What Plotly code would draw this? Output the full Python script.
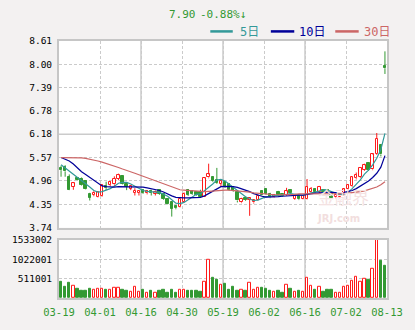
import plotly.graph_objects as go

# ---- data -------------------------------------------------------------
date_labels = ["03-19", "04-01", "04-16", "04-30", "05-19", "06-02", "06-16", "07-02", "08-13"]

opens = [5.30, 5.33, 5.06, 4.80, 5.04, 5.00, 4.96, 4.63, 4.59, 4.54,
         4.58, 4.84, 4.86, 4.87, 5.01, 5.08, 4.87, 4.76, 4.65, 4.65,
         4.72, 4.64, 4.71, 4.62, 4.72, 4.63, 4.50, 4.40, 4.30, 4.27,
         4.40, 4.72, 4.70, 4.67, 4.66, 4.55, 5.05, 5.05, 4.98, 4.88,
         4.92, 4.88, 4.80, 4.66, 4.40, 4.52, 4.47, 4.40, 4.47, 4.69,
         4.74, 4.63, 4.55, 4.67, 4.62, 4.59, 4.72, 4.49, 4.58, 4.50,
         4.48, 4.68, 4.74, 4.67, 4.72, 4.72, 4.64, 4.53, 4.53, 4.60,
         4.76, 4.82, 5.03, 5.06, 5.24, 5.42, 5.26, 5.66, 5.90, 7.97]
highs = [5.36, 5.37, 5.13, 4.91, 5.06, 5.05, 4.98, 4.65, 4.69, 4.68,
         4.86, 4.94, 4.96, 5.08, 5.15, 5.10, 4.88, 4.84, 4.77, 4.72,
         4.74, 4.72, 4.73, 4.71, 4.74, 4.65, 4.51, 4.42, 4.33, 4.50,
         4.66, 4.75, 4.72, 4.69, 4.73, 5.05, 5.41, 5.08, 5.30, 4.98,
         4.94, 4.90, 4.82, 4.68, 4.52, 4.55, 4.53, 4.48, 4.60, 4.72,
         4.76, 4.65, 4.62, 4.70, 4.64, 4.78, 4.74, 4.60, 4.60, 4.59,
         5.01, 4.80, 4.77, 4.83, 4.74, 4.75, 4.66, 4.62, 4.61, 4.76,
         4.88, 5.06, 5.18, 5.32, 5.41, 5.45, 5.67, 6.21, 5.92, 8.34]
lows = [5.07, 5.07, 4.72, 4.73, 4.97, 4.84, 4.74, 4.45, 4.56, 4.53,
        4.55, 4.72, 4.83, 4.83, 4.98, 4.86, 4.72, 4.72, 4.58, 4.58,
        4.62, 4.61, 4.58, 4.58, 4.60, 4.47, 4.35, 4.03, 4.22, 4.26,
        4.39, 4.57, 4.60, 4.57, 4.53, 4.54, 5.03, 4.93, 4.88, 4.80,
        4.78, 4.70, 4.68, 4.40, 4.38, 4.44, 4.05, 4.37, 4.45, 4.58,
        4.60, 4.51, 4.53, 4.58, 4.55, 4.57, 4.62, 4.47, 4.46, 4.48,
        4.47, 4.66, 4.64, 4.65, 4.65, 4.64, 4.49, 4.51, 4.51, 4.58,
        4.74, 4.80, 5.00, 5.04, 5.22, 5.22, 5.24, 5.64, 5.60, 7.75]
closes = [5.24, 5.21, 4.73, 4.90, 4.98, 4.86, 4.76, 4.52, 4.65, 4.67,
          4.85, 4.77, 4.93, 5.01, 5.11, 4.87, 4.81, 4.82, 4.71, 4.71,
          4.64, 4.70, 4.65, 4.67, 4.62, 4.49, 4.37, 4.24, 4.25, 4.49,
          4.63, 4.60, 4.62, 4.59, 4.55, 5.03, 5.13, 4.95, 4.90, 4.96,
          4.80, 4.72, 4.70, 4.45, 4.50, 4.46, 4.51, 4.46, 4.57, 4.60,
          4.62, 4.53, 4.59, 4.60, 4.57, 4.69, 4.64, 4.57, 4.48, 4.57,
          4.80, 4.76, 4.66, 4.80, 4.67, 4.66, 4.51, 4.60, 4.59, 4.74,
          4.85, 5.05, 5.12, 5.30, 5.37, 5.25, 5.65, 6.06, 5.65, 7.90]
volumes = [438000, 286000, 413000, 312000, 253000, 202000, 202000, 236000, 211000, 244000,
           253000, 227000, 227000, 270000, 270000, 227000, 202000, 152000, 303000, 168000,
           227000, 143000, 177000, 143000, 202000, 227000, 143000, 227000, 126000, 227000,
           227000, 202000, 185000, 177000, 160000, 421000, 1011000, 539000, 480000, 354000,
           379000, 227000, 286000, 202000, 227000, 185000, 396000, 227000, 278000, 261000,
           236000, 185000, 168000, 202000, 143000, 345000, 253000, 168000, 202000, 168000,
           522000, 320000, 227000, 295000, 168000, 227000, 227000, 143000, 143000, 295000,
           320000, 455000, 548000, 421000, 505000, 480000, 758000, 1533002, 985000, 859000]
ma5 = [5.38, 5.30, 5.21, 5.13, 5.05, 4.98, 4.89, 4.80, 4.71, 4.67,
       4.68, 4.71, 4.76, 4.82, 4.90, 4.92, 4.92, 4.88, 4.82, 4.76,
       4.71, 4.69, 4.67, 4.67, 4.66, 4.62, 4.56, 4.47, 4.38, 4.37,
       4.40, 4.47, 4.55, 4.61, 4.62, 4.70, 4.78, 4.88, 4.98, 5.00,
       4.96, 4.88, 4.80, 4.70, 4.63, 4.55, 4.49, 4.45, 4.46, 4.50,
       4.55, 4.56, 4.58, 4.58, 4.59, 4.61, 4.63, 4.62, 4.60, 4.58,
       4.62, 4.65, 4.67, 4.70, 4.73, 4.72, 4.68, 4.63, 4.60, 4.61,
       4.66, 4.76, 4.87, 4.99, 5.14, 5.24, 5.38, 5.55, 5.78, 6.20]
ma10 = [5.57, 5.53, 5.48, 5.40, 5.29, 5.20, 5.13, 5.05, 4.97, 4.90,
        4.83, 4.81, 4.80, 4.80, 4.81, 4.81, 4.81, 4.81, 4.81, 4.80,
        4.80, 4.78, 4.76, 4.74, 4.71, 4.67, 4.61, 4.57, 4.53, 4.52,
        4.52, 4.52, 4.52, 4.52, 4.53, 4.57, 4.63, 4.70, 4.77, 4.81,
        4.82, 4.82, 4.81, 4.79, 4.76, 4.72, 4.68, 4.63, 4.59, 4.56,
        4.54, 4.54, 4.54, 4.55, 4.56, 4.57, 4.58, 4.59, 4.59, 4.59,
        4.61, 4.63, 4.64, 4.65, 4.66, 4.66, 4.66, 4.65, 4.65, 4.66,
        4.68, 4.71, 4.76, 4.82, 4.89, 4.96, 5.05, 5.16, 5.32, 5.62]
ma30 = [5.57, 5.57, 5.57, 5.57, 5.57, 5.56, 5.55, 5.53, 5.51, 5.48,
        5.45, 5.42, 5.39, 5.35, 5.31, 5.27, 5.24, 5.20, 5.16, 5.12,
        5.08, 5.04, 5.00, 4.96, 4.92, 4.88, 4.84, 4.80, 4.76, 4.73,
        4.72, 4.71, 4.70, 4.69, 4.68, 4.68, 4.69, 4.70, 4.71, 4.72,
        4.72, 4.72, 4.71, 4.71, 4.70, 4.69, 4.67, 4.65, 4.64, 4.62,
        4.61, 4.60, 4.60, 4.60, 4.60, 4.61, 4.61, 4.61, 4.62, 4.62,
        4.62, 4.62, 4.62, 4.62, 4.62, 4.62, 4.62, 4.62, 4.62, 4.63,
        4.64, 4.65, 4.66, 4.68, 4.70, 4.73, 4.76, 4.80, 4.86, 4.94]
price_ticks = [3.74, 4.35, 4.96, 5.57, 6.18, 6.78, 7.39, 8.00, 8.61]
volume_ticks = [511001, 1022001, 1533002]
last_price = "7.90"
last_change = "-0.88%↓"
ma_names = ["5日", "10日", "30日"]

# ---- styles -----------------------------------------------------------
UP = "#ff1a1a"
DOWN = "#339933"
MA_COLORS = ["#339999", "#000099", "#cc6666"]
GRID = "#cbcbcb"
BORDER = "#c6c6c6"
BG = "#f3f1f1"

W, H = 415, 330
L, R, T, B = 54, 25, 41, 21
PLOT_W, PLOT_H = W - L - R, H - T - B
MAIN_BOTTOM_PX, VOL_TOP_PX = 235.7, 248.3


def px_x(x):
    return (x - L) / PLOT_W


def px_y(y):
    return (H - B - y) / PLOT_H


n = len(closes)
idx = list(range(n))
up = [c >= o for o, c in zip(opens, closes)]

fig = go.Figure()

# wicks: upper and lower segments so hollow bodies stay clean
for is_up, color in ((True, UP), (False, DOWN)):
    wx, wy = [], []
    for i in idx:
        if up[i] != is_up:
            continue
        top, bot = max(opens[i], closes[i]), min(opens[i], closes[i])
        wx += [i, i, None, i, i, None]
        wy += [highs[i], top, None, bot, lows[i], None]
    fig.add_trace(go.Scatter(x=wx, y=wy, mode="lines", line=dict(color=color, width=1),
                             hoverinfo="skip", showlegend=False, xaxis="x", yaxis="y"))

# candle bodies
for is_up, color, fill in ((True, UP, "white"), (False, DOWN, DOWN)):
    sel = [i for i in idx if up[i] == is_up]
    fig.add_trace(go.Bar(
        x=sel,
        y=[max(abs(closes[i] - opens[i]), 0.012) for i in sel],
        base=[min(opens[i], closes[i]) for i in sel],
        width=0.58,
        marker=dict(color=fill, line=dict(color=color, width=1)),
        showlegend=False, hoverinfo="skip", xaxis="x", yaxis="y"))

# moving averages
for vals, color in zip((ma5, ma10, ma30), MA_COLORS):
    fig.add_trace(go.Scatter(x=idx, y=vals, mode="lines", line=dict(color=color, width=1.2),
                             showlegend=False, hoverinfo="skip", xaxis="x", yaxis="y"))

# volume bars
for is_up, color, fill in ((True, UP, "white"), (False, DOWN, DOWN)):
    sel = [i for i in idx if up[i] == is_up]
    fig.add_trace(go.Bar(
        x=sel, y=[volumes[i] for i in sel], width=0.58,
        marker=dict(color=fill, line=dict(color=color, width=1)),
        showlegend=False, hoverinfo="skip", xaxis="x2", yaxis="y2"))

grid_x = [-0.5 + 10 * k for k in range(len(date_labels))]
tick_font = dict(family="DejaVu Sans Mono", size=9.5, color="#000000")

common_x = dict(range=[-0.5, n - 0.5], tickmode="array", tickvals=grid_x,
                showgrid=True, gridcolor=GRID, griddash="3px,2px", gridwidth=1,
                showline=True, mirror=True, linecolor=BORDER, linewidth=2,
                zeroline=False, ticks="", fixedrange=True)

fig.update_layout(
    width=W, height=H,
    margin=dict(l=L, r=R, t=T, b=B, pad=0),
    paper_bgcolor=BG, plot_bgcolor="white",
    barmode="overlay", bargap=0,
    showlegend=False,
    xaxis=dict(common_x, anchor="y", showticklabels=False),
    xaxis2=dict(common_x, anchor="y2", matches="x", ticktext=date_labels,
                showticklabels=True, ticklabelstandoff=3,
                tickfont=dict(family="DejaVu Sans Mono", size=10.5, color="#339933")),
    yaxis=dict(domain=[px_y(MAIN_BOTTOM_PX), 1], range=[price_ticks[0], price_ticks[-1]],
               tickmode="array", tickvals=price_ticks,
               ticktext=[f"{v:.2f}" for v in price_ticks],
               showgrid=True, gridcolor=GRID, griddash="3px,2px", gridwidth=1,
               showline=True, mirror=True, linecolor=BORDER, linewidth=2,
               zeroline=False, ticks="", tickfont=tick_font, ticklabelstandoff=3,
               anchor="x", fixedrange=True),
    yaxis2=dict(domain=[0, px_y(VOL_TOP_PX)], range=[0, volume_ticks[-1]],
                tickmode="array", tickvals=volume_ticks,
                ticktext=[str(v) for v in volume_ticks],
                showgrid=True, gridcolor=GRID, griddash="3px,2px", gridwidth=1,
                showline=True, mirror=True, linecolor=BORDER, linewidth=2,
                zeroline=False, ticks="", tickfont=tick_font, ticklabelstandoff=3,
                anchor="x2", fixedrange=True),
)

# solid separators among the dashed grid
shapes = []
for k in (2, 4, 6):
    for xr, yr in (("x", "y domain"), ("x2", "y2 domain")):
        shapes.append(dict(type="line", xref=xr, yref=yr, x0=grid_x[k], x1=grid_x[k],
                           y0=0, y1=1, line=dict(color=GRID, width=1.5), layer="below"))
shapes.append(dict(type="line", xref="x domain", yref="y", x0=0, x1=1,
                   y0=price_ticks[4], y1=price_ticks[4],
                   line=dict(color=GRID, width=1.5), layer="below"))

# legend swatches
legend_line_px = [(209, 232), (271, 295), (337, 361)]
legend_text_px = [237, 298, 364]
annotations = []
for (x0, x1), tx, name, color in zip(legend_line_px, legend_text_px, ma_names, MA_COLORS):
    shapes.append(dict(type="line", xref="paper", yref="paper",
                       x0=px_x(x0), x1=px_x(x1), y0=px_y(31), y1=px_y(31),
                       line=dict(color=color, width=2.5)))
    annotations.append(dict(xref="paper", yref="paper", x=px_x(tx), y=px_y(31.5),
                            xanchor="left", yanchor="middle", showarrow=False, text=name,
                            font=dict(family="DejaVu Sans Mono, Noto Sans CJK SC", size=12,
                                      color=color)))

# quote header
annotations.append(dict(xref="paper", yref="paper", x=px_x(180), y=px_y(13.5),
                        xanchor="center", yanchor="middle", showarrow=False, text=last_price,
                        font=dict(family="DejaVu Sans Mono", size=11, color="#339933")))
annotations.append(dict(xref="paper", yref="paper", x=px_x(222), y=px_y(13.5),
                        xanchor="center", yanchor="middle", showarrow=False, text=last_change,
                        font=dict(family="DejaVu Sans Mono", size=11, color="#339933")))

# faint site watermark
annotations.append(dict(xref="paper", yref="paper", x=px_x(345), y=px_y(203),
                        xanchor="center", yanchor="middle", showarrow=False, text="金融界",
                        font=dict(family="Noto Sans CJK SC", size=17, color="#f4e2e2")))
annotations.append(dict(xref="paper", yref="paper", x=px_x(340), y=px_y(226),
                        xanchor="center", yanchor="middle", showarrow=False, text="<b>JRJ.com</b>",
                        font=dict(family="DejaVu Sans", size=10, color="#f2dede")))

fig.update_layout(shapes=shapes, annotations=annotations)

fig.write_html("out.html")
